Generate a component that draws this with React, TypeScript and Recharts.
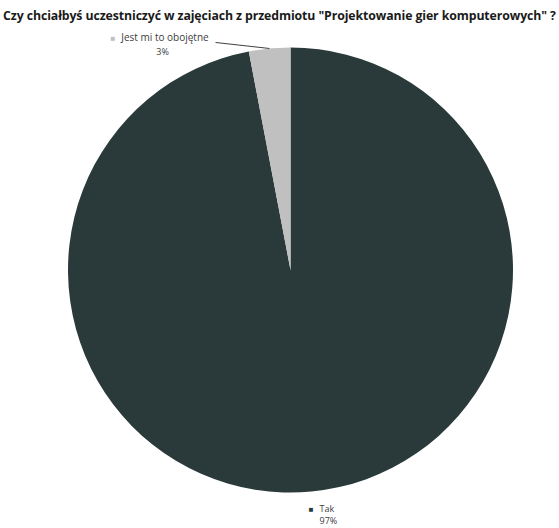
import React from "react";
import { PieChart, Pie, Cell } from "recharts";

const TITLE =
  'Czy chciałbyś uczestniczyć w zajęciach z przedmiotu "Projektowanie gier komputerowych" ?';
const ANSWERS = ["Tak", "Jest mi to obojętne"];
const SHARES = [97, 3];
const COLORS = ["#2a3a3a", "#c0c0c0"];

const DATA = ANSWERS.map((name, i) => ({ name, value: SHARES[i] }));

const RADIAN = Math.PI / 180;
const FONT = "'Open Sans', sans-serif";
const TEXT = "#404040";

function renderLabel(props: any) {
  const { cx, cy, midAngle, outerRadius, index, name, value } = props;
  const ax = cx + outerRadius * Math.cos(-midAngle * RADIAN);
  const ay = cy + outerRadius * Math.sin(-midAngle * RADIAN);
  const color = COLORS[index];

  if (ay < cy) {
    // upper slice: label sits to the left with a leader line
    const lx = ax - 54;
    const ly = ay - 6;
    const tx = ax - 110;
    return (
      <g>
        <line x1={ax} y1={ay} x2={lx} y2={ly} stroke={TEXT} strokeWidth={1} />
        <text x={tx} y={ly - 1} textAnchor="middle" fontFamily={FONT} fontSize={10} fill={TEXT}>
          <tspan fill={color} fontSize={8}>■</tspan>
          <tspan dx={6}>{name}</tspan>
        </text>
        <text x={tx + 3} y={ly + 13} textAnchor="middle" fontFamily={FONT} fontSize={9} fill={TEXT}>
          {value}%
        </text>
      </g>
    );
  }

  const tx = ax + 10;
  return (
    <g>
      <text x={tx} y={ay + 20} textAnchor="middle" fontFamily={FONT} fontSize={9} fill={TEXT}>
        <tspan fill={color} fontSize={8}>■</tspan>
        <tspan dx={6}>{name}</tspan>
      </text>
      <text x={tx + 7} y={ay + 32} textAnchor="middle" fontFamily={FONT} fontSize={9} fill={TEXT}>
        {value}%
      </text>
    </g>
  );
}

export default function App() {
  return (
    <div style={{ position: "absolute", left: 0, top: 0, width: 559, height: 528, background: "#fff" }}>
      <div
        style={{
          position: "absolute",
          left: 0,
          top: 8,
          width: 559,
          whiteSpace: "nowrap",
          textAlign: "center",
          fontFamily: FONT,
          fontWeight: 700,
          fontSize: 12.3,
          lineHeight: "16px",
          color: "#1a1a1a",
          letterSpacing: "-0.1px",
        }}
      >
        {TITLE}
      </div>
      <PieChart width={559} height={528} margin={{ top: 0, right: 0, bottom: 0, left: 0 }}>
        <Pie
          data={DATA}
          dataKey="value"
          nameKey="name"
          cx={290.5}
          cy={270}
          outerRadius={222.5}
          startAngle={90}
          endAngle={-270}
          stroke="none"
          label={renderLabel}
          labelLine={false}
          isAnimationActive={false}
        >
          {DATA.map((d, i) => (
            <Cell key={d.name} fill={COLORS[i]} />
          ))}
        </Pie>
      </PieChart>
    </div>
  );
}
